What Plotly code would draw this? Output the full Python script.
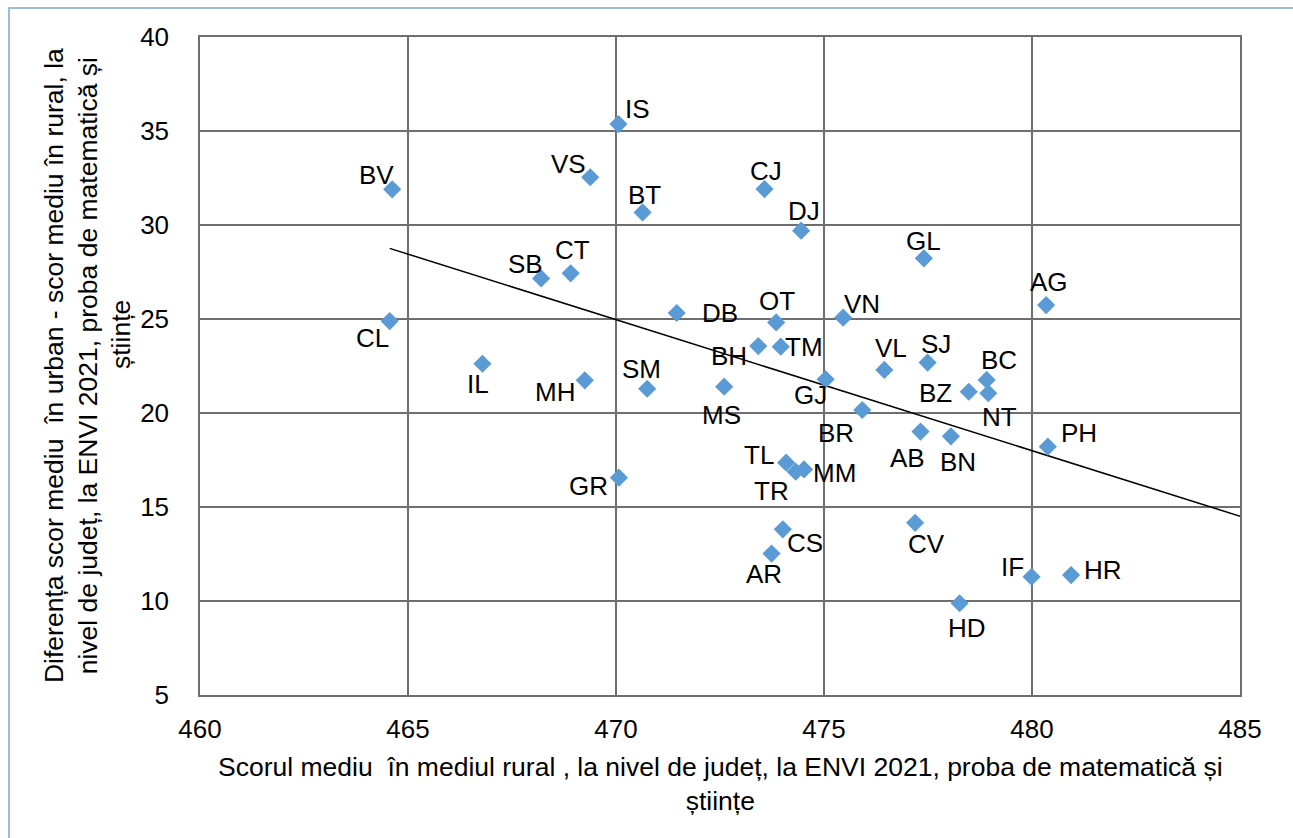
import numpy as np
import plotly.graph_objects as go

# County codes, rural mean score (x) and urban-rural gap (y), ENVI 2021
judete = ["IS", "BV", "VS", "BT", "SB", "CT", "CL", "IL", "MH", "SM", "GR",
          "DB", "CJ", "DJ", "GL", "OT", "VN", "TM", "BH", "MS", "GJ", "VL",
          "SJ", "BR", "BC", "BZ", "NT", "AB", "BN", "PH", "SV", "TL", "TR",
          "MM", "CS", "AR", "CV", "IF", "HR", "HD", "AG"]
scor_rural = [470.06, 464.62, 469.38, 470.64, 468.20, 468.91, 464.56, 466.79,
              469.25, 470.75, 470.07, 471.46, 473.57, 474.45, 477.40, 473.85,
              475.46, 473.96, 473.42, 472.60, 475.04, 476.45, 477.49, 475.92,
              478.91, 478.48, 478.95, 477.32, 478.05, 480.38, 485.05, 474.09,
              474.32, 474.52, 474.01, 473.74, 477.19, 479.99, 480.94, 478.26,
              480.34]
diferenta = [35.37, 31.90, 32.54, 30.67, 27.16, 27.43, 24.89, 22.62, 21.74,
             21.29, 16.56, 25.32, 31.91, 29.70, 28.23, 24.82, 25.07, 23.53,
             23.56, 21.40, 21.79, 22.29, 22.68, 20.16, 21.76, 21.13, 21.05,
             19.01, 18.76, 18.21, 16.35, 17.36, 16.88, 17.00, 13.81, 12.52,
             14.16, 11.29, 11.38, 9.88, 25.74]

x_ticks = [460, 465, 470, 475, 480, 485]
y_ticks = [5, 10, 15, 20, 25, 30, 35, 40]

# Label placement around each marker (pixels: right, down)
label_offset = {
    "IS": (19, -15), "BV": (-16, -14), "VS": (-22, -13), "BT": (2, -17),
    "SB": (-16, -14), "CT": (2, -23), "CL": (-17, 17), "IL": (-4, 20),
    "MH": (-30, 12), "SM": (-6, -20), "GR": (-30, 8), "DB": (43, 0),
    "CJ": (1, -18), "DJ": (3, -20), "GL": (0, -17), "OT": (1, -21),
    "VN": (19, -14), "TM": (23, 0), "BH": (-29, 10), "MS": (-3, 28),
    "GJ": (-15, 16), "VL": (7, -22), "SJ": (8, -19), "BR": (-26, 23),
    "BC": (12, -20), "BZ": (-33, 1), "NT": (11, 24), "AB": (-13, 26),
    "BN": (7, 26), "PH": (31, -14), "SV": (-29, -18), "TL": (-27, -8),
    "TR": (-24, 19), "MM": (30, 4), "CS": (22, 14), "AR": (-8, 20),
    "CV": (11, 21), "IF": (-19, -10), "HR": (32, -5), "HD": (7, 25),
    "AG": (3, -23),
}

FONT = "Liberation Sans, Arial, sans-serif"
GRID = "#6e6e6e"
TITLE_SIZE = 26.5

fig = go.Figure()

# Linear trend line over the data range
xs = np.array(scor_rural)
ys = np.array(diferenta)
slope, intercept = np.polyfit(xs, ys, 1)
tx = np.array([xs.min(), xs.max()])
fig.add_trace(go.Scatter(x=tx, y=slope * tx + intercept, mode="lines",
                         line=dict(color="black", width=1.5),
                         hoverinfo="skip", showlegend=False))

fig.add_trace(go.Scatter(
    x=scor_rural, y=diferenta, mode="markers", text=judete,
    marker=dict(symbol="diamond", size=14, color="#5b9bd5",
                line=dict(width=0)),
    cliponaxis=False, showlegend=False))

annotations = []
for name, xv, yv in zip(judete, scor_rural, diferenta):
    dx, dy = label_offset[name]
    annotations.append(dict(
        x=xv, y=yv, xref="x", yref="y", text=name, showarrow=False,
        xshift=dx, yshift=-dy, xanchor="center", yanchor="middle",
        font=dict(family=FONT, size=26, color="black")))

# Axis titles
annotations.append(dict(
    x=0.5, y=-0.136, xref="paper", yref="paper", xanchor="center",
    yanchor="middle", showarrow=False, align="center",
    text="Scorul mediu  în mediul rural , la nivel de județ, la ENVI 2021, "
         "proba de matematică și<br>științe",
    font=dict(family=FONT, size=TITLE_SIZE, color="black")))
annotations.append(dict(
    x=-0.124, y=0.5, xref="paper", yref="paper", xanchor="center",
    yanchor="middle", showarrow=False, align="center", textangle=-90,
    text="Diferența scor mediu  în urban - scor mediu în rural, la<br>"
         "nivel de județ, la ENVI 2021, proba de matematică și",
    font=dict(family=FONT, size=TITLE_SIZE, color="black")))
annotations.append(dict(
    x=(121 - 200) / 1040, y=(695 - 335) / 658, xref="paper", yref="paper",
    xanchor="center", yanchor="middle", showarrow=False, textangle=-90,
    text="științe",
    font=dict(family=FONT, size=TITLE_SIZE, color="black")))

fig.update_layout(
    width=1293, height=838,
    margin=dict(l=200, r=53, t=37, b=143),
    paper_bgcolor="white", plot_bgcolor="white",
    annotations=annotations,
    shapes=[dict(type="rect", xref="paper", yref="paper",
                 x0=(9 - 200) / 1040, x1=1.2, y0=-0.5, y1=(695 - 8) / 658,
                 line=dict(color="#7aa6d6", width=1.5), layer="below")],
    xaxis=dict(range=[460, 485], tickvals=x_ticks, showgrid=True,
               gridcolor=GRID, gridwidth=1.5, zeroline=False,
               showline=True, linecolor=GRID, linewidth=1.5, mirror=True,
               ticks="", ticklabelstandoff=10,
               tickfont=dict(family=FONT, size=26, color="black")),
    yaxis=dict(range=[5, 40], tickvals=y_ticks, showgrid=True,
               gridcolor=GRID, gridwidth=1.5, zeroline=False,
               showline=True, linecolor=GRID, linewidth=1.5, mirror=True,
               ticks="", ticklabelstandoff=24,
               tickfont=dict(family=FONT, size=26, color="black")),
)

fig.write_html("out.html")
